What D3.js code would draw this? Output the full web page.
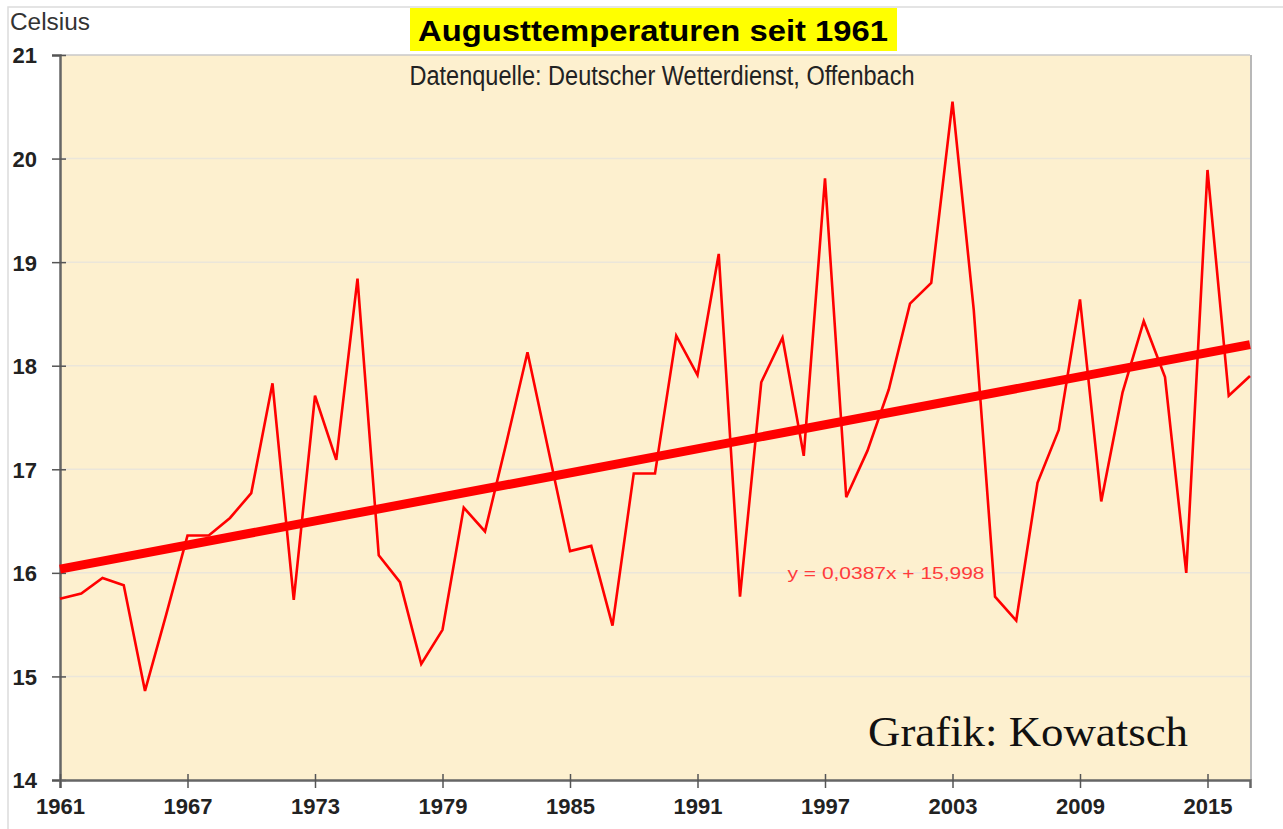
<!DOCTYPE html>
<html>
<head>
  <meta charset="utf-8">
  <script src="https://d3js.org/d3.v7.min.js"></script>
  <style type="text/css">
    body { margin: 0; background: #fff; }
    svg { display: block; }
  </style>
</head>
<body>
<script type="text/javascript">
  "use strict";

  // August mean temperatures (deg C)
  var years = d3.range(1961, 2018);
  var temps = [
    15.75, 15.80, 15.95, 15.88, 14.86, 15.60, 16.36, 16.36, 16.53, 16.77,
    17.83, 15.74, 17.71, 17.09, 18.84, 16.17, 15.91, 15.12, 15.45, 16.63,
    16.40, 17.25, 18.13, 17.17, 16.21, 16.26, 15.49, 16.96, 16.96, 18.29,
    17.91, 19.08, 15.77, 17.84, 18.27, 17.13, 19.81, 16.73, 17.18, 17.77,
    18.60, 18.80, 20.55, 18.54, 15.77, 15.54, 16.87, 17.38, 18.64, 16.69,
    17.74, 18.43, 17.89, 16.00, 19.89, 17.71, 17.90
  ];
  var xTickYears = [1961, 1967, 1973, 1979, 1985, 1991, 1997, 2003, 2009, 2015];
  var yTicks = [14, 15, 16, 17, 18, 19, 20, 21];
  // linear trend as printed on the chart (x = 1, 2, ... per year)
  var trendSlope = 0.0387,
      trendIntercept = 15.998;

  var title = "Augusttemperaturen seit 1961",
      subtitle = "Datenquelle: Deutscher Wetterdienst, Offenbach",
      equation = "y = 0,0387x + 15,998",
      credit = "Grafik: Kowatsch";

  var W = 1283, H = 829;
  var plotL = 60, plotR = 1250, plotT = 55, plotB = 780;

  var svg = d3.select("body").append("svg")
      .attr("width", W)
      .attr("height", H)
      .style("font-family", "'Liberation Sans', Arial, sans-serif");

  // outer frame
  svg.append("rect")
      .attr("x", 8).attr("y", 7)
      .attr("width", W + 20).attr("height", H + 20)
      .attr("fill", "none")
      .attr("stroke", "#dcdcdc")
      .attr("stroke-width", 1.5);

  var x = d3.scaleLinear().domain([1961, 2017]).range([plotL, plotR]);
  var y = d3.scaleLinear().domain([14, 21]).range([plotB, plotT]);

  // plot area
  svg.append("rect")
      .attr("x", plotL).attr("y", plotT)
      .attr("width", plotR - plotL).attr("height", plotB - plotT)
      .attr("fill", "#fdf0cf");

  // horizontal grid
  svg.append("g")
      .selectAll("line")
      .data(yTicks.filter(function (d) { return d > 14 && d < 21; }))
      .join("line")
        .attr("x1", plotL).attr("x2", plotR)
        .attr("y1", function (d) { return y(d); })
        .attr("y2", function (d) { return y(d); })
        .attr("stroke", "#ebe6da")
        .attr("stroke-width", 1.5);

  // frame: top + right (soft), left + bottom axes (dark)
  svg.append("line")
      .attr("x1", plotL).attr("x2", plotR)
      .attr("y1", plotT).attr("y2", plotT)
      .attr("stroke", "#c8c8c8").attr("stroke-width", 1.5);
  svg.append("line")
      .attr("x1", plotR + 1).attr("x2", plotR + 1)
      .attr("y1", plotT).attr("y2", plotB)
      .attr("stroke", "#b8b8b8").attr("stroke-width", 2);

  // y axis
  var yAxis = d3.axisLeft(y)
      .tickValues(yTicks)
      .tickSize(8)
      .tickPadding(15)
      .tickFormat(d3.format("d"));
  var gy = svg.append("g")
      .attr("transform", "translate(" + plotL + ",0)")
      .call(yAxis);
  gy.select(".domain").attr("stroke", "#666").attr("stroke-width", 2.5);
  gy.selectAll(".tick line").attr("stroke", "#555").attr("stroke-width", 1.5)
      .attr("x2", -8).attr("x1", 6);
  gy.selectAll(".tick text")
      .attr("fill", "#222")
      .style("font-size", "22px")
      .style("font-weight", "bold")
      .attr("dy", "0.36em");

  // x axis
  var xAxis = d3.axisBottom(x)
      .tickValues(xTickYears)
      .tickSize(8)
      .tickPadding(10)
      .tickFormat(d3.format("d"));
  var gx = svg.append("g")
      .attr("transform", "translate(0," + plotB + ")")
      .call(xAxis);
  gx.select(".domain").attr("stroke", "#666").attr("stroke-width", 2.5);
  gx.selectAll(".tick line").attr("stroke", "#555").attr("stroke-width", 1.5)
      .attr("y1", -6).attr("y2", 8);
  gx.selectAll(".tick text")
      .attr("fill", "#222")
      .style("font-size", "22px")
      .style("font-weight", "bold");

  // trend line
  var trend = d3.line()
      .x(function (d) { return x(d); })
      .y(function (d) { return y(trendIntercept + trendSlope * (d - 1960)); });
  svg.append("path")
      .datum([years[0], years[years.length - 1]])
      .attr("d", trend)
      .attr("fill", "none")
      .attr("stroke", "#ff0000")
      .attr("stroke-width", 9);

  // temperature series
  var line = d3.line()
      .x(function (d, i) { return x(years[i]); })
      .y(function (d) { return y(d); });
  svg.append("path")
      .datum(temps)
      .attr("d", line)
      .attr("fill", "none")
      .attr("stroke", "#ff0000")
      .attr("stroke-width", 2.6)
      .attr("stroke-linejoin", "miter");

  // texts
  svg.append("text")
      .attr("x", 10).attr("y", 30)
      .attr("fill", "#333")
      .attr("textLength", 80)
      .attr("lengthAdjust", "spacingAndGlyphs")
      .style("font-size", "23px")
      .text("Celsius");

  svg.append("rect")
      .attr("x", 410).attr("y", 8)
      .attr("width", 487).attr("height", 43)
      .attr("fill", "#ffff00");
  svg.append("text")
      .attr("x", 653).attr("y", 41)
      .attr("text-anchor", "middle")
      .attr("fill", "#000")
      .attr("textLength", 470)
      .attr("lengthAdjust", "spacingAndGlyphs")
      .style("font-size", "29px")
      .style("font-weight", "bold")
      .text(title);

  svg.append("text")
      .attr("x", 662).attr("y", 85)
      .attr("text-anchor", "middle")
      .attr("fill", "#222")
      .attr("textLength", 505)
      .attr("lengthAdjust", "spacingAndGlyphs")
      .style("font-family", "'Liberation Sans Narrow', 'Arial Narrow', 'Liberation Sans', sans-serif")
      .style("font-size", "27px")
      .text(subtitle);

  svg.append("text")
      .attr("x", 886).attr("y", 579)
      .attr("text-anchor", "middle")
      .attr("fill", "#ff3b3b")
      .attr("textLength", 197)
      .attr("lengthAdjust", "spacingAndGlyphs")
      .style("font-size", "16px")
      .text(equation);

  svg.append("text")
      .attr("x", 1028).attr("y", 746)
      .attr("text-anchor", "middle")
      .attr("fill", "#111")
      .attr("textLength", 320)
      .attr("lengthAdjust", "spacingAndGlyphs")
      .style("font-family", "'Liberation Serif', 'Times New Roman', serif")
      .style("font-size", "43px")
      .text(credit);
</script>
</body>
</html>
